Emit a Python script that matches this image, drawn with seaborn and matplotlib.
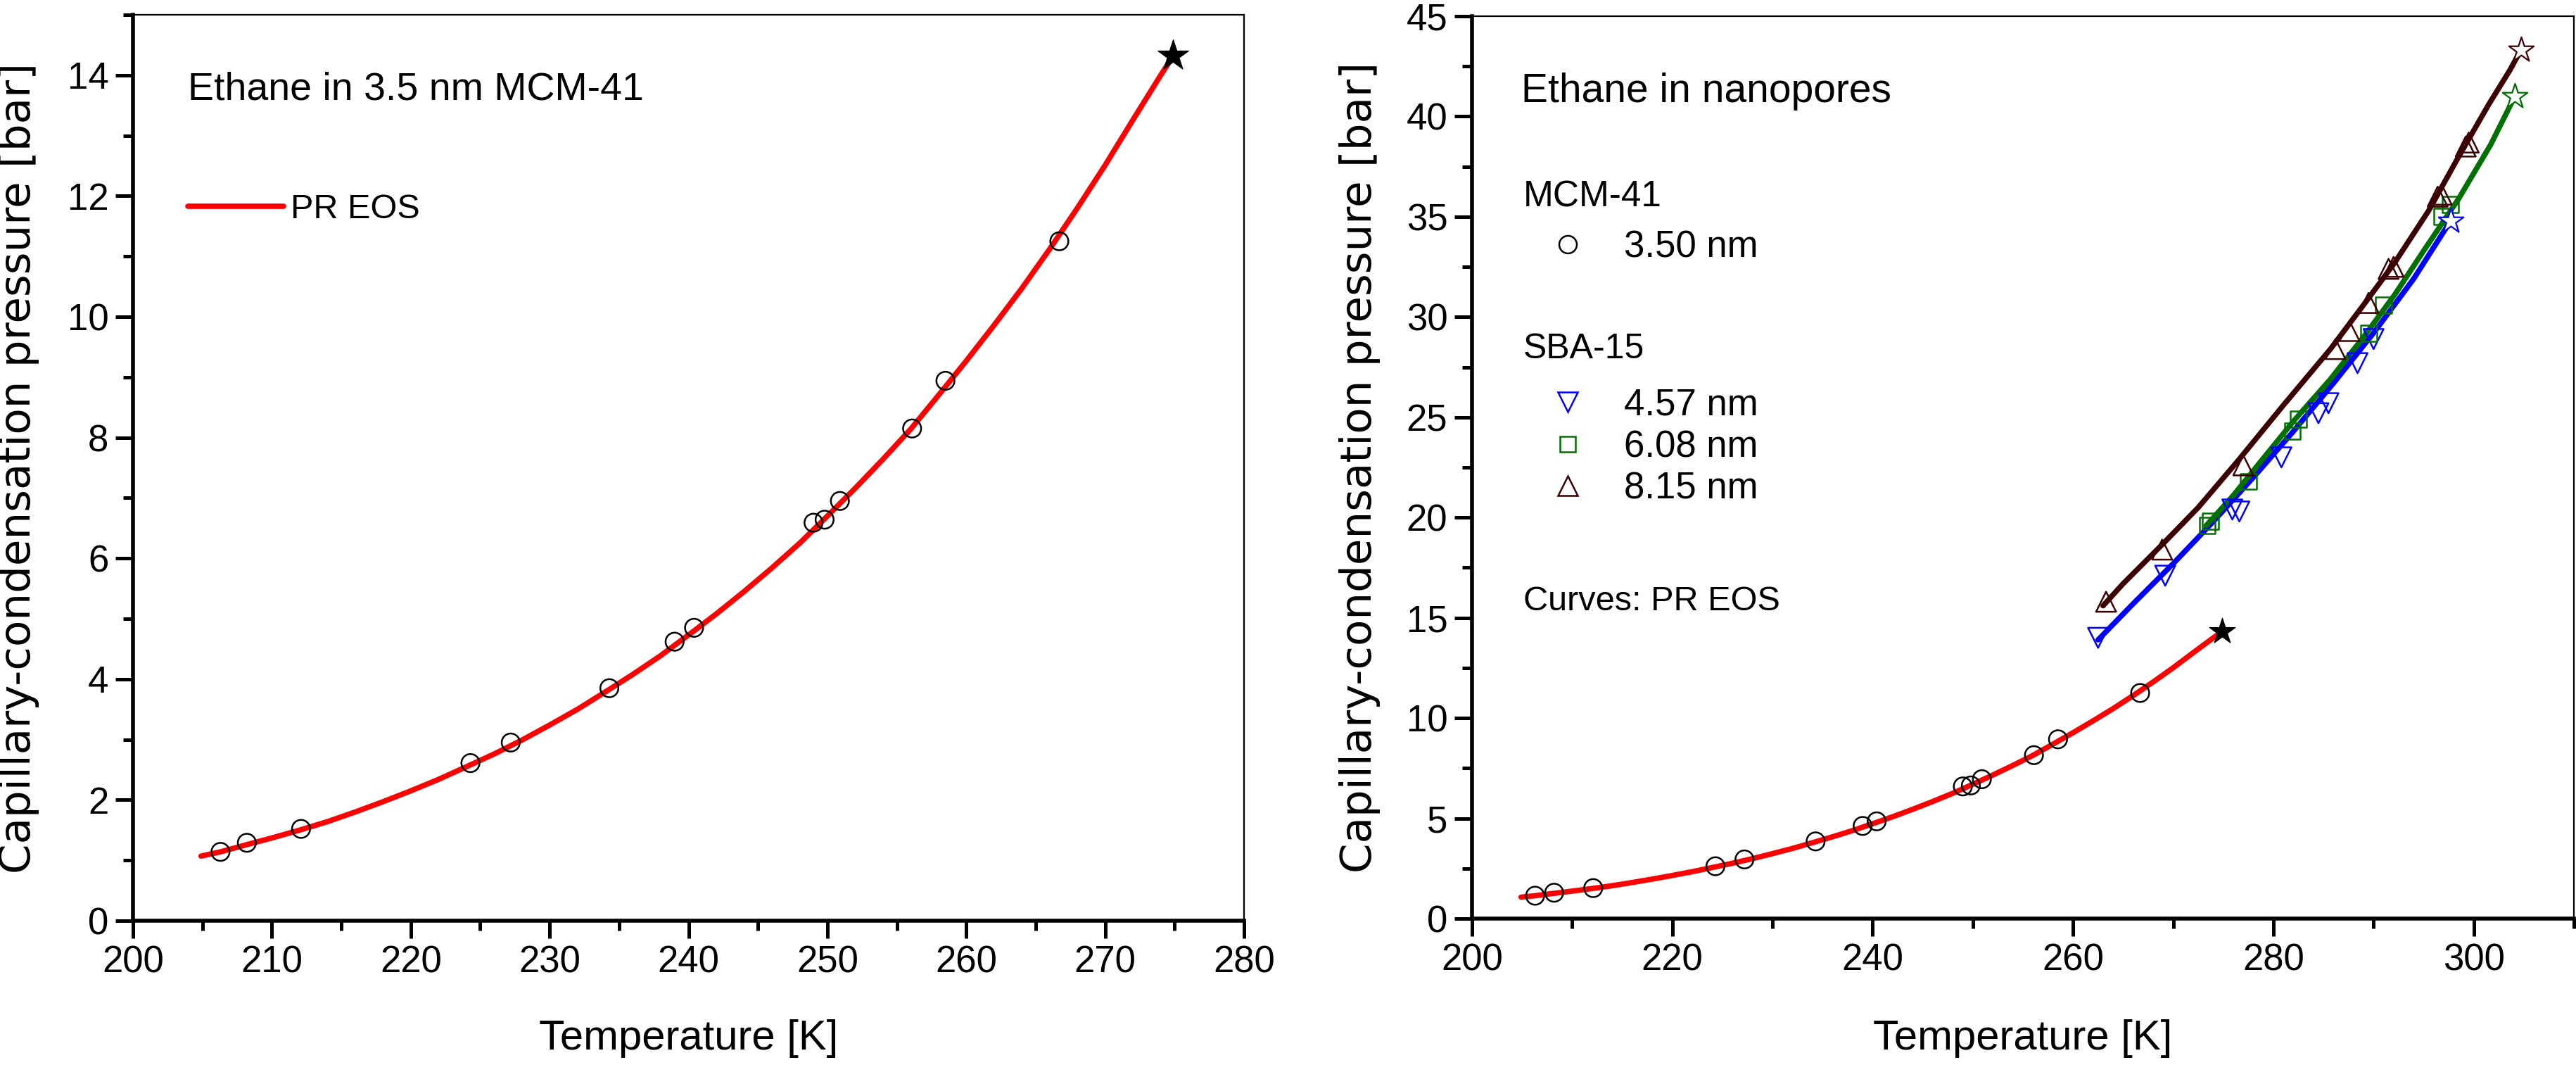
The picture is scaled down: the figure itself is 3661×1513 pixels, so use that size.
import matplotlib
matplotlib.use("Agg")
import matplotlib.pyplot as plt
import seaborn as sns
from matplotlib.lines import Line2D
from matplotlib.ticker import MultipleLocator

# MCM-41 3.50 nm data points (T in K, P in bar)
mcm_T = [206.3, 208.2, 212.1, 224.3, 227.2, 234.3, 239.0, 240.4, 249.0, 249.8, 250.9, 256.1, 258.5, 266.7]
mcm_P = [1.14, 1.29, 1.52, 2.61, 2.95, 3.85, 4.62, 4.85, 6.59, 6.64, 6.95, 8.15, 8.94, 11.25]
mcm_crit_T = [274.9]
mcm_crit_P = [14.32]

# PR EOS curve for 3.5 nm MCM-41
pr_T = [204.9, 206.3, 208.2, 210.0, 212.0, 214.0, 216.0, 218.0, 220.0, 222.0, 224.3, 226.0,
        228.0, 230.0, 232.0, 234.3, 236.0, 238.0, 240.4, 242.0, 244.0, 246.0, 248.0, 250.0,
        252.0, 254.0, 256.0, 258.0, 260.0, 262.0, 264.0, 266.0, 268.0, 270.0, 272.0, 274.0, 274.9]
pr_P = [1.07, 1.14, 1.26, 1.37, 1.50, 1.64, 1.80, 1.97, 2.15, 2.34, 2.58, 2.76,
        2.99, 3.24, 3.50, 3.83, 4.08, 4.39, 4.80, 5.08, 5.45, 5.84, 6.25, 6.70,
        7.16, 7.64, 8.14, 8.70, 9.27, 9.86, 10.47, 11.12, 11.80, 12.51, 13.26, 14.00, 14.32]

# SBA-15 4.57 nm
sba457_T = [262.5, 269.2, 275.9, 276.6, 280.8, 284.5, 285.5, 288.4, 290.0]
sba457_P = [14.0, 17.1, 20.4, 20.3, 23.0, 25.2, 25.7, 27.7, 28.9]
sba457_crit_T = [297.7]
sba457_crit_P = [34.8]
pr457_T = [262.5, 266.0, 270.0, 274.0, 278.0, 282.0, 286.0, 290.0, 294.0, 297.7]
pr457_P = [13.9, 15.7, 17.7, 19.8, 22.0, 24.3, 26.7, 29.2, 31.9, 34.8]

# SBA-15 6.08 nm
sba608_T = [273.4, 273.7, 277.5, 281.9, 282.5, 289.5, 291.0, 296.8, 297.7]
sba608_P = [19.6, 19.8, 21.8, 24.3, 24.9, 29.2, 30.6, 35.0, 35.6]
sba608_crit_T = [304.1]
sba608_crit_P = [41.0]
pr608_T = [273.3, 276.0, 279.4, 282.0, 285.7, 289.0, 292.1, 295.0, 298.5, 301.7, 304.1]
pr608_P = [19.6, 21.1, 23.2, 24.8, 26.9, 29.0, 31.1, 33.3, 35.9, 38.6, 41.0]

# SBA-15 8.15 nm
sba815_T = [263.3, 268.9, 277.0, 286.2, 287.6, 289.5, 291.5, 292.0, 296.4, 296.8, 299.2, 299.5]
sba815_P = [15.8, 18.4, 22.6, 28.4, 29.3, 30.7, 32.4, 32.5, 36.0, 36.1, 38.5, 38.7]
sba815_crit_T = [304.7]
sba815_crit_P = [43.3]
pr815_T = [263.0, 265.0, 267.0, 269.0, 272.5, 276.5, 281.0, 285.7, 289.0, 292.1, 295.5, 298.5, 301.5, 303.6, 304.7]
pr815_P = [15.6, 16.7, 17.7, 18.7, 20.5, 22.85, 25.6, 28.4, 30.6, 32.7, 35.3, 38.0, 40.6, 42.3, 43.3]

c_red = "#ff0000"
c_blue = "#0000ff"
c_green = "#007000"
c_brown = "#3d0000"

sns.set_style("ticks", {"axes.edgecolor": "black", "xtick.color": "black",
                        "ytick.color": "black", "text.color": "black",
                        "axes.labelcolor": "black"})
plt.rcParams['font.family'] = ['Liberation Sans', 'DejaVu Sans']

fig = plt.figure(figsize=(36.62, 15.13), dpi=100)
ax1 = fig.add_axes([0.05161, 0.13549, 0.43119, 0.85063])
ax2 = fig.add_axes([0.57127, 0.13748, 0.42764, 0.84733])


def style_axes(ax):
    for s in ['left', 'bottom']:
        ax.spines[s].set_linewidth(4.0)
    for s in ['top', 'right']:
        ax.spines[s].set_linewidth(1.6)
    ax.tick_params(which='major', direction='out', length=18, width=3.6,
                   labelsize=38, pad=7, top=False, right=False)
    ax.tick_params(which='minor', direction='out', length=10, width=3.6,
                   top=False, right=False)
    ax.set_xlabel('Temperature [K]', fontsize=43)
    ax.set_ylabel('Capillary-condensation pressure [bar]', fontsize=44,
                  fontfamily='DejaVu Sans')


def circles(ax):
    sns.scatterplot(x=mcm_T, y=mcm_P, ax=ax, marker='o', s=340,
                    facecolors='none', edgecolor='black', linewidth=1.8, zorder=3)


# ---- left panel ----
sns.lineplot(x=pr_T, y=pr_P, ax=ax1, color=c_red, lw=5.5, sort=False, estimator=None)
circles(ax1)
sns.scatterplot(x=mcm_crit_T, y=mcm_crit_P, ax=ax1, marker='*', s=1100,
                color='black', edgecolor='black', linewidth=0.8, zorder=4)
ax1.set_xlim(200, 280)
ax1.set_ylim(0, 15)
ax1.xaxis.set_major_locator(MultipleLocator(10))
ax1.xaxis.set_minor_locator(MultipleLocator(5))
ax1.yaxis.set_major_locator(MultipleLocator(2))
ax1.yaxis.set_minor_locator(MultipleLocator(1))
style_axes(ax1)
ax1.xaxis.set_label_coords(0.5, -0.109)
ax1.yaxis.set_label_coords(-0.084, 0.5)
ax1.text(0.0494, 0.906, 'Ethane in 3.5 nm MCM-41', transform=ax1.transAxes,
         fontsize=40, ha='left', va='baseline')
ax1.legend([Line2D([], [], color=c_red, lw=5.5)], ['PR EOS'], loc='center left',
           bbox_to_anchor=(0.0494, 0.785), frameon=False, fontsize=35,
           handlelength=2.8, handletextpad=0.2, borderpad=0, borderaxespad=0)

# ---- right panel ----
sns.lineplot(x=pr_T, y=pr_P, ax=ax2, color=c_red, lw=5.5, sort=False, estimator=None)
sns.lineplot(x=pr457_T, y=pr457_P, ax=ax2, color=c_blue, lw=5.5, sort=False, estimator=None)
sns.lineplot(x=pr608_T, y=pr608_P, ax=ax2, color=c_green, lw=5.5, sort=False, estimator=None)
sns.lineplot(x=pr815_T, y=pr815_P, ax=ax2, color=c_brown, lw=5.5, sort=False, estimator=None)
circles(ax2)
sns.scatterplot(x=sba457_T, y=sba457_P, ax=ax2, marker='v', s=420,
                facecolors='none', edgecolor=c_blue, linewidth=1.8, zorder=3)
sns.scatterplot(x=sba608_T, y=sba608_P, ax=ax2, marker='s', s=270,
                facecolors='none', edgecolor=c_green, linewidth=1.8, zorder=3)
sns.scatterplot(x=sba815_T, y=sba815_P, ax=ax2, marker='^', s=420,
                facecolors='none', edgecolor=c_brown, linewidth=1.8, zorder=3)
sns.scatterplot(x=mcm_crit_T, y=mcm_crit_P, ax=ax2, marker='*', s=780,
                color='black', edgecolor='black', linewidth=0.8, zorder=4)
for ct, cp, col in [(sba457_crit_T, sba457_crit_P, c_blue),
                    (sba608_crit_T, sba608_crit_P, c_green),
                    (sba815_crit_T, sba815_crit_P, c_brown)]:
    sns.scatterplot(x=ct, y=cp, ax=ax2, marker='*', s=720, facecolor='white',
                    edgecolor=col, linewidth=1.6, zorder=4)
ax2.set_xlim(200, 310)
ax2.set_ylim(0, 45)
ax2.xaxis.set_major_locator(MultipleLocator(20))
ax2.xaxis.set_minor_locator(MultipleLocator(10))
ax2.yaxis.set_major_locator(MultipleLocator(5))
ax2.yaxis.set_minor_locator(MultipleLocator(2.5))
style_axes(ax2)
ax2.xaxis.set_label_coords(0.5, -0.1115)
ax2.yaxis.set_label_coords(-0.083, 0.5)

ax2.text(0.0447, 0.905, 'Ethane in nanopores', transform=ax2.transAxes,
         fontsize=41, ha='left', va='baseline')
ax2.text(0.0466, 0.7886, 'MCM-41', transform=ax2.transAxes, fontsize=37, va='baseline')
ax2.text(0.0466, 0.6209, 'SBA-15', transform=ax2.transAxes, fontsize=36, va='baseline')
ax2.text(0.0466, 0.3413, 'Curves: PR EOS', transform=ax2.transAxes, fontsize=35, va='baseline')

leg_kw = dict(loc='center left', frameon=False, fontsize=38, handlelength=1.0,
              handletextpad=1.02, borderpad=0, borderaxespad=0, numpoints=1)
h_mcm = Line2D([], [], marker='o', ls='none', mfc='none', mec='black', ms=18, mew=1.8)
leg1 = ax2.legend([h_mcm], ['3.50 nm'], bbox_to_anchor=(0.070, 0.744), **leg_kw)
h_457 = Line2D([], [], marker='v', ls='none', mfc='none', mec=c_blue, ms=20, mew=1.8)
h_608 = Line2D([], [], marker='s', ls='none', mfc='none', mec=c_green, ms=16, mew=1.8)
h_815 = Line2D([], [], marker='^', ls='none', mfc='none', mec=c_brown, ms=20, mew=1.8)
ax2.legend([h_457, h_608, h_815], ['4.57 nm', '6.08 nm', '8.15 nm'],
           bbox_to_anchor=(0.070, 0.5226), labelspacing=0.18, **leg_kw)
ax2.add_artist(leg1)

fig.savefig('out.png', dpi=100)
